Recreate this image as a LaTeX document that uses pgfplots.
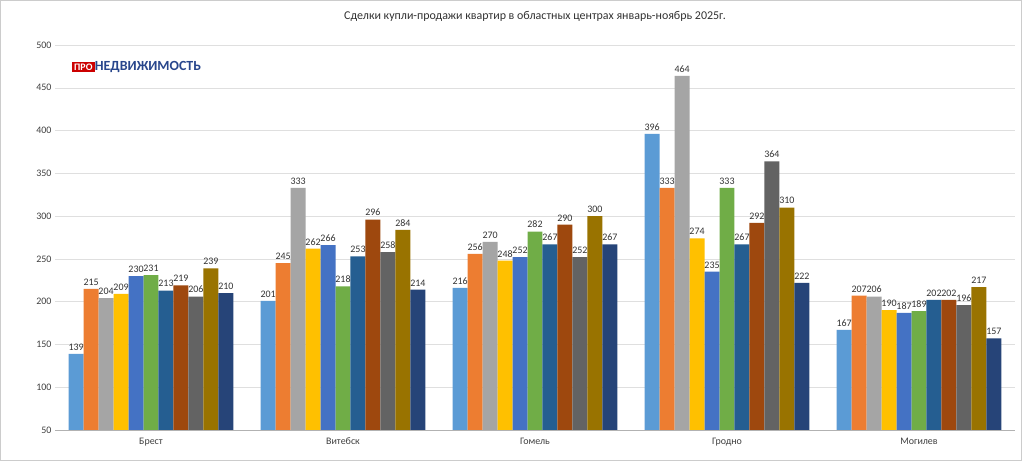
\documentclass[border=0pt]{standalone}
\usepackage{pgfplots}
\pgfplotsset{compat=1.18}
\usepackage{fontspec}
\setmainfont{Carlito}
\definecolor{c1}{HTML}{5B9BD5}\definecolor{c2}{HTML}{ED7D31}\definecolor{c3}{HTML}{A5A5A5}
\definecolor{c4}{HTML}{FFC000}\definecolor{c5}{HTML}{4472C4}\definecolor{c6}{HTML}{70AD47}
\definecolor{c7}{HTML}{255E91}\definecolor{c8}{HTML}{9E480E}\definecolor{c9}{HTML}{636363}
\definecolor{c10}{HTML}{997300}\definecolor{c11}{HTML}{264478}
\begin{document}
\begin{tikzpicture}
\fill[white] (0,0) rectangle (1022bp,461bp);
\draw[gray!40] (0.5bp,0.5bp) rectangle (1021.5bp,460.5bp);
\begin{axis}[at={(55bp,31bp)},anchor=south west,scale only axis,width=960bp,height=385bp,
 ybar=0pt, bar width=0.078, ymin=50, ymax=500, ytick={50,100,...,500},
 xmin=-0.5, xmax=4.5, xtick={0,1,2,3,4}, xticklabels={Брест,Витебск,Гомель,Гродно,Могилев},
 x tick style={draw=none}, extra x ticks={-0.5,0.5,1.5,2.5,3.5,4.5}, extra x tick labels={},
 extra x tick style={major tick length=5bp, tick style={draw=gray!60}, grid=none},
 ymajorgrids, grid style={gray!25}, y tick style={draw=none},
 axis line style={draw=none}, axis x line*=bottom,
 x axis line style={draw=gray!60},
 tick label style={font=\fontsize{10}{12}\selectfont, text=black!75},
 /pgf/number format/assume math mode=true,
 nodes near coords, every node near coord/.append style={font=\fontsize{10}{12}\selectfont, text=black!80},
 title={Сделки купли-продажи квартир в областных центрах январь-ноябрь 2025г.},
 title style={font=\fontsize{12}{14}\selectfont, text=black!80, at={(0.5,1)}, yshift=14bp},
]
\addplot[fill=c1,draw=none] coordinates {(0,139)(1,201)(2,216)(3,396)(4,167)};
\addplot[fill=c2,draw=none] coordinates {(0,215)(1,245)(2,256)(3,333)(4,207)};
\addplot[fill=c3,draw=none] coordinates {(0,204)(1,333)(2,270)(3,464)(4,206)};
\addplot[fill=c4,draw=none] coordinates {(0,209)(1,262)(2,248)(3,274)(4,190)};
\addplot[fill=c5,draw=none] coordinates {(0,230)(1,266)(2,252)(3,235)(4,187)};
\addplot[fill=c6,draw=none] coordinates {(0,231)(1,218)(2,282)(3,333)(4,189)};
\addplot[fill=c7,draw=none] coordinates {(0,213)(1,253)(2,267)(3,267)(4,202)};
\addplot[fill=c8,draw=none] coordinates {(0,219)(1,296)(2,290)(3,292)(4,202)};
\addplot[fill=c9,draw=none] coordinates {(0,206)(1,258)(2,252)(3,364)(4,196)};
\addplot[fill=c10,draw=none] coordinates {(0,239)(1,284)(2,300)(3,310)(4,217)};
\addplot[fill=c11,draw=none] coordinates {(0,210)(1,214)(2,267)(3,222)(4,157)};
\end{axis}
\node[anchor=west,inner sep=2bp,fill=red!80!black,text=white,font=\bfseries\fontsize{10}{11}\selectfont] (p) at (72bp,394bp) {ПРО};
\node[anchor=west,inner sep=0pt,text={rgb,255:red,40;green,70;blue,140},font=\bfseries\fontsize{14}{15}\selectfont] at (p.east) {НЕДВИЖИМОСТЬ};
\end{tikzpicture}
\end{document}
